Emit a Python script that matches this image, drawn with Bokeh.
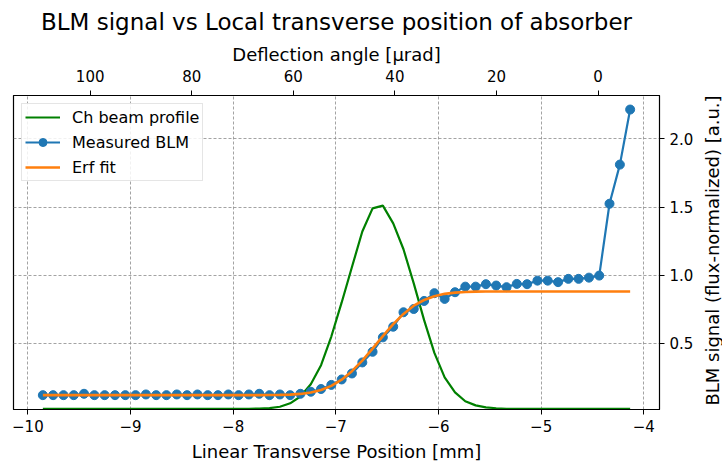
import math
from bokeh.plotting import figure
from bokeh.layouts import row
from bokeh.models import Range1d, LinearAxis, FixedTicker, Legend, LegendItem, Title
from bokeh.embed import file_html
from bokeh.resources import INLINE

# ---- data ----
position_mm = [-9.854, -9.754, -9.653, -9.553, -9.453, -9.352, -9.252, -9.151, -9.051, -8.951,
               -8.850, -8.750, -8.650, -8.549, -8.449, -8.348, -8.248, -8.148, -8.047, -7.947,
               -7.847, -7.746, -7.646, -7.545, -7.445, -7.345, -7.244, -7.144, -7.044, -6.943,
               -6.843, -6.742, -6.642, -6.542, -6.441, -6.341, -6.241, -6.140, -6.040, -5.940,
               -5.839, -5.739, -5.638, -5.538, -5.438, -5.337, -5.237, -5.137, -5.036, -4.936,
               -4.835, -4.735, -4.635, -4.534, -4.434, -4.334, -4.233, -4.133]

blm_measured = [0.12, 0.12, 0.12, 0.12, 0.13, 0.12, 0.12, 0.12, 0.12, 0.12,
                0.125, 0.12, 0.12, 0.125, 0.12, 0.125, 0.12, 0.12, 0.125, 0.12,
                0.125, 0.13, 0.12, 0.125, 0.12, 0.13, 0.145, 0.165, 0.195, 0.235,
                0.279, 0.36, 0.438, 0.544, 0.622, 0.728, 0.752, 0.811, 0.868, 0.826,
                0.875, 0.916, 0.916, 0.934, 0.924, 0.912, 0.936, 0.934, 0.960, 0.960,
                0.949, 0.973, 0.973, 0.982, 0.997, 1.524, 1.811, 2.215]

erf_fit = [0.12, 0.12, 0.12, 0.12, 0.12, 0.12, 0.12, 0.12, 0.12, 0.12,
           0.12, 0.12, 0.12, 0.12, 0.12, 0.12, 0.12, 0.12, 0.12, 0.12,
           0.12, 0.12, 0.121, 0.122, 0.124, 0.129, 0.139, 0.158, 0.188, 0.233,
           0.296, 0.373, 0.461, 0.553, 0.641, 0.716, 0.776, 0.818, 0.846, 0.863,
           0.872, 0.877, 0.879, 0.88, 0.88, 0.88, 0.88, 0.88, 0.88, 0.88,
           0.88, 0.88, 0.88, 0.88, 0.88, 0.88, 0.88, 0.88]

beam_profile = [0.02, 0.02, 0.02, 0.02, 0.02, 0.02, 0.02, 0.02, 0.02, 0.02,
                0.02, 0.02, 0.02, 0.02, 0.02, 0.02, 0.02, 0.02, 0.02, 0.02,
                0.02, 0.021, 0.025, 0.035, 0.06, 0.11, 0.2, 0.34, 0.55, 0.80,
                1.06, 1.32, 1.49, 1.51, 1.38, 1.19, 0.94, 0.67, 0.43, 0.25,
                0.14, 0.075, 0.045, 0.03, 0.024, 0.02, 0.02, 0.02, 0.02, 0.02,
                0.02, 0.02, 0.02, 0.02, 0.02, 0.02, 0.02, 0.02]

x_ticks = [-10, -9, -8, -7, -6, -5, -4]
angle_ticks = [100, 80, 60, 40, 20, 0]
y_ticks = [0.5, 1.0, 1.5, 2.0]
y_title = "BLM signal (flux-normalized) [a.u.]"

FONT = "DejaVu Sans"
FW, FH = 646, 314

p = figure(frame_width=FW, frame_height=FH,
           x_range=Range1d(-10.140, -3.847), y_range=Range1d(0.0147, 2.318),
           y_axis_location="right", output_backend="svg", toolbar_location=None,
           title="BLM signal vs Local transverse position of absorber",
           min_border_left=13, min_border_right=34, min_border_top=0, min_border_bottom=0)
p.background_fill_color = "white"
p.border_fill_color = "white"
p.outline_line_color = "black"
p.outline_line_width = 1.2

p.title.text_font = FONT
p.title.text_font_size = "23px"
p.title.text_font_style = "normal"
p.title.align = "center"
p.title.text_color = "black"
p.title.standoff = 12

bottom = p.below[0]
right = p.right[0]

# top axis: deflection angle
p.extra_x_ranges = {"angle": Range1d(115.1, -12.1)}
top = LinearAxis(x_range_name="angle", axis_label="Deflection angle [μrad]",
                 ticker=FixedTicker(ticks=angle_ticks))
p.add_layout(top, "above")

for ax in [bottom, right, top]:
    ax.axis_label_text_font = FONT
    ax.axis_label_text_font_size = "18px"
    ax.axis_label_text_font_style = "normal"
    ax.axis_label_text_color = "black"
    ax.major_label_text_font = FONT
    ax.major_label_text_font_size = "15px"
    ax.major_label_text_color = "black"
    ax.major_tick_in = 0
    ax.major_tick_out = 5
    ax.minor_tick_line_color = None
    ax.axis_line_color = "black"
    ax.major_label_standoff = 5
    ax.axis_label_standoff = 5

top.major_label_standoff = 9
top.axis_label_standoff = 2
bottom.axis_label_standoff = 6

bottom.axis_label = "Linear Transverse Position [mm]"
bottom.ticker = FixedTicker(ticks=x_ticks)
bottom.major_label_overrides = {t: ("−" + str(abs(t)) if t < 0 else str(t)) for t in x_ticks}
right.ticker = FixedTicker(ticks=y_ticks)
right.major_label_overrides = {t: "%.1f" % t for t in y_ticks}

p.xgrid.ticker = FixedTicker(ticks=x_ticks)
p.ygrid.ticker = FixedTicker(ticks=y_ticks)
for g in [p.xgrid, p.ygrid]:
    g.grid_line_color = "#8c8c8c"
    g.grid_line_dash = "3 2"
    g.grid_line_width = 0.8

g_line = p.line(position_mm, beam_profile, line_color="green", line_width=2.2)
b_line = p.line(position_mm, blm_measured, line_color="#1f77b4", line_width=2.2)
b_pts = p.scatter(position_mm, blm_measured, size=9, fill_color="#1f77b4", line_color="#1f77b4")
o_line = p.line(position_mm, erf_fit, line_color="#ff7f0e", line_width=2.6)

legend = Legend(items=[
    LegendItem(label="Ch beam profile", renderers=[g_line]),
    LegendItem(label="Measured BLM", renderers=[b_line, b_pts]),
    LegendItem(label="Erf fit", renderers=[o_line]),
], location="top_left")
legend.margin = 8
legend.padding = 3
legend.spacing = 5
legend.glyph_width = 35
legend.glyph_height = 20
legend.label_height = 20
legend.label_standoff = 12
legend.label_text_font = FONT
legend.label_text_font_size = "16px"
legend.label_text_color = "black"
legend.border_line_color = "#cccccc"
legend.border_line_width = 1
legend.background_fill_alpha = 0.85
p.add_layout(legend)

# narrow strip whose left-side title is the right-hand axis title (reads bottom to top)
lab = figure(width=28, height=460, x_range=Range1d(0, 1), y_range=Range1d(0, 1),
             x_axis_location=None, y_axis_location=None,
             output_backend="svg", toolbar_location=None,
             min_border_left=26, min_border_right=0, min_border_top=0, min_border_bottom=0,
             outline_line_color=None)
lab.grid.visible = False
lab.border_fill_color = "white"
lab.background_fill_color = "white"
ytitle = Title(text=y_title, align="center", standoff=0,
               text_font=FONT, text_font_size="18px", text_font_style="normal",
               text_color="black")
lab.add_layout(ytitle, "left")

layout = row(p, lab)
open("out.html", "w").write(file_html(layout, INLINE))
